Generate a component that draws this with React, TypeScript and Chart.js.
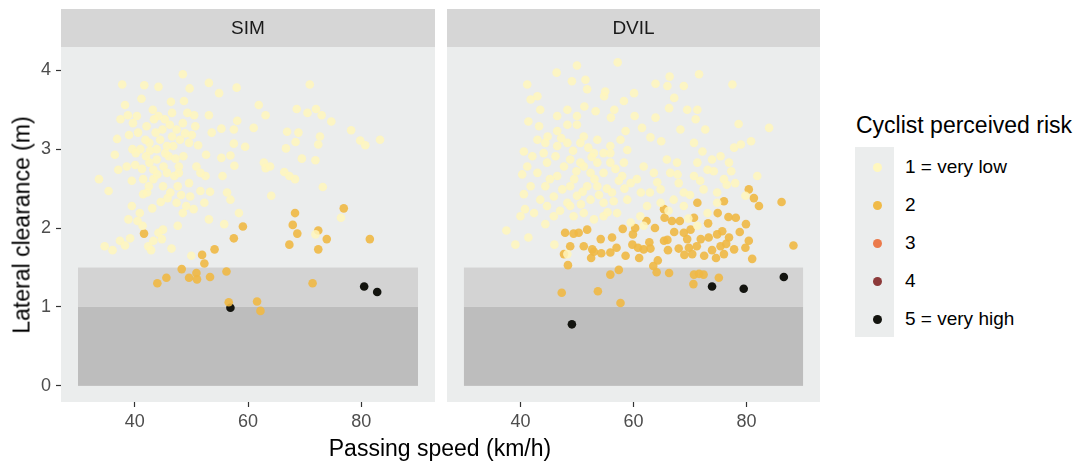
import React, { useEffect, useRef } from "react";
import { Chart, registerables } from "chart.js";

Chart.register(...registerables);

// ---------- data ----------
const X_TICKS = [40, 60, 80];
const Y_TICKS = [0, 1, 2, 3, 4];
const X_RANGE = [27, 93];
const Y_RANGE = [-0.2045, 4.295];

const PANEL_LABELS = ["SIM", "DVIL"];
const RISK_LABELS = ["1 = very low", "2", "3", "4", "5 = very high"];
const RISK_COLORS = ["#FFF7BF", "#F0BA48", "#EB7A4B", "#8C3A3A", "#13140F"];
const RISK_POINT_COLORS = [
  "rgba(255,246,188,0.85)",
  "rgba(240,184,68,0.9)",
  "rgba(235,122,75,0.9)",
  "rgba(140,58,58,0.95)",
  "rgba(19,20,15,1)",
];

// shaded clearance zones: [xFrom, xTo, yFrom, yTo]
const ZONE_DARK = [30, 90, 0, 1];
const ZONE_LIGHT = [30, 90, 1, 1.5];

const SIM_R1: [number, number][] = [
  [33.7, 2.62], [35.4, 2.47], [34.7, 1.77], [36.1, 1.72], [37.8, 3.82], [41.7, 3.81],
  [44.2, 3.79], [48.5, 3.95], [53.1, 3.84], [54.9, 3.71], [58.0, 3.78], [70.9, 3.82],
  [38.3, 3.56], [41.2, 3.64], [46.4, 3.6], [48.7, 3.61], [49.7, 3.77], [61.9, 3.56],
  [63.1, 3.43], [53.1, 3.43], [68.6, 3.51], [70.5, 3.46], [72.0, 3.51], [73.0, 3.43],
  [74.7, 3.35], [78.2, 3.24], [79.8, 3.11], [80.7, 3.05], [83.3, 3.12], [61.0, 3.27],
  [58.1, 3.36], [57.5, 3.25], [55.3, 3.26], [53.6, 3.21], [66.9, 3.22], [68.9, 3.21],
  [72.7, 3.16], [68.4, 3.09], [72.4, 3.06], [66.7, 3.01], [59.5, 3.03], [57.5, 3.07],
  [52.6, 2.93], [55.3, 2.89], [56.9, 2.92], [57.6, 2.79], [69.5, 2.88], [71.9, 2.86],
  [62.8, 2.83], [63.1, 2.76], [63.9, 2.78], [66.4, 2.71], [67.3, 2.66], [68.3, 2.62],
  [73.2, 2.52], [64.1, 2.41], [55.5, 2.66], [52.5, 2.66], [53.3, 2.46], [51.6, 2.47],
  [56.3, 2.45], [56.9, 2.36], [52.3, 2.32], [58.4, 2.19], [53.1, 2.11], [55.8, 2.05],
  [76.4, 2.13], [71.9, 1.92], [50.0, 1.65], [46.5, 1.74], [45.0, 1.98], [43.3, 1.84],
  [42.4, 1.77], [39.2, 1.87], [37.4, 1.84], [47.6, 2.03], [48.5, 2.19], [50.4, 2.24],
  [49.1, 2.28], [47.4, 2.32], [45.8, 2.38], [43.1, 2.25], [40.9, 2.19], [39.5, 2.28],
  [38.9, 2.11], [40.5, 2.09], [41.4, 2.03], [44.2, 1.94], [41.5, 2.43], [42.2, 2.45],
  [39.5, 2.6], [40.1, 2.8], [38.6, 2.78], [37.1, 2.74], [36.5, 2.93], [36.9, 3.13],
  [37.5, 3.38], [38.8, 3.43], [39.7, 3.33], [40.4, 3.42], [39.6, 3.0], [41.0, 3.0],
  [42.0, 2.91], [42.6, 3.08], [43.7, 3.21], [43.2, 3.5], [44.2, 3.42], [45.3, 3.38],
  [44.5, 3.12], [43.9, 2.87], [42.6, 2.83], [43.3, 2.74], [45.1, 2.78], [46.0, 2.91],
  [46.8, 3.04], [48.0, 3.12], [47.4, 3.25], [46.6, 3.46], [48.5, 3.33], [49.3, 3.46],
  [50.5, 3.43], [50.7, 3.29], [50.1, 3.18], [49.6, 3.08], [48.6, 2.91], [47.8, 2.78],
  [47.0, 2.66], [45.7, 2.7], [45.0, 2.53], [46.3, 2.45], [47.6, 2.53], [49.6, 2.57],
  [50.9, 2.78], [51.6, 2.7], [40.6, 3.21], [42.1, 3.29], [41.5, 2.62], [45.7, 3.04],
  [43.9, 3.0], [47.8, 2.7], [43.3, 2.62], [42.5, 2.53], [46.6, 3.16], [44.8, 1.86],
  [42.9, 1.72], [38.3, 1.78], [41.9, 3.12], [44.9, 3.25], [45.4, 2.95], [42.7, 2.98],
  [47.2, 2.88], [48.9, 3.2], [44.0, 2.68], [40.2, 2.95], [46.2, 3.31], [43.4, 3.38],
  [39.0, 3.18], [41.3, 2.75], [48.2, 2.42], [44.6, 2.33], [51.2, 3.05], [49.8, 2.4],
];
const SIM_R2: [number, number][] = [
  [41.65, 1.93], [44.0, 1.3], [45.6, 1.37], [48.3, 1.48], [49.6, 1.37], [50.9, 1.43],
  [51.0, 1.35], [51.9, 1.66], [52.3, 1.55], [53.3, 1.38], [54.1, 1.73], [56.2, 1.45],
  [56.6, 1.06], [57.5, 1.87], [59.1, 2.02], [61.6, 1.07], [62.2, 0.95], [67.3, 1.79],
  [67.9, 2.04], [68.3, 2.19], [68.7, 1.93], [71.4, 1.3], [72.4, 1.97], [72.4, 1.73],
  [73.9, 1.86], [76.9, 2.25], [81.5, 1.86],
];
const SIM_R3: [number, number][] = [];
const SIM_R4: [number, number][] = [];
const SIM_R5: [number, number][] = [[56.9, 0.99], [80.5, 1.26], [82.8, 1.19]];

const DVIL_R1: [number, number][] = [
  [37.5, 1.97], [39.1, 1.79], [41.4, 1.88], [46.0, 1.79], [48.3, 1.67], [40.0, 2.15],
  [40.8, 2.24], [42.4, 2.19], [44.4, 2.05], [45.9, 2.15], [40.6, 2.43], [41.8, 2.53],
  [40.3, 2.68], [41.2, 2.78], [43.0, 2.7], [44.4, 2.53], [44.7, 2.83], [46.5, 2.66],
  [47.4, 2.49], [48.3, 2.32], [48.8, 2.53], [50.0, 2.41], [51.2, 2.19], [52.4, 2.36],
  [53.6, 2.53], [54.7, 2.32], [56.2, 2.45], [57.1, 2.19], [58.9, 2.36], [59.5, 2.57],
  [58.0, 2.66], [54.7, 2.7], [52.4, 2.7], [50.6, 2.83], [48.8, 2.87], [47.7, 2.78],
  [46.2, 2.91], [44.1, 2.95], [42.1, 2.91], [40.6, 2.97], [43.0, 3.12], [44.4, 3.08],
  [46.5, 3.04], [48.3, 3.08], [50.6, 3.08], [53.0, 2.95], [54.7, 2.95], [55.9, 3.04],
  [55.9, 2.83], [53.6, 2.83], [51.2, 2.78], [51.8, 2.53], [58.3, 2.83], [61.8, 2.78],
  [63.6, 2.7], [60.6, 2.62], [62.4, 2.28], [62.9, 2.45], [64.8, 2.49], [64.8, 2.32],
  [66.5, 2.7], [65.9, 2.87], [67.7, 2.83], [68.0, 2.57], [68.9, 2.45], [67.1, 2.36],
  [70.7, 2.66], [71.3, 2.83], [72.4, 2.49], [73.1, 2.74], [73.9, 2.87], [75.4, 2.91],
  [76.9, 2.83], [76.0, 2.62], [74.8, 2.45], [76.5, 2.55], [78.0, 2.57], [79.8, 2.41],
  [81.9, 2.66], [77.8, 3.02], [79.0, 3.06], [80.8, 3.1], [78.6, 3.32], [84.0, 3.27],
  [70.7, 3.08], [72.2, 2.97], [68.3, 3.25], [71.0, 3.38], [69.5, 3.5], [71.3, 3.5],
  [66.3, 3.52], [63.9, 3.4], [61.5, 3.27], [67.2, 3.65], [66.0, 3.8], [68.9, 3.8],
  [66.4, 3.92], [71.6, 3.95], [77.5, 3.82], [63.9, 3.83], [60.1, 3.71], [58.3, 3.61],
  [58.6, 3.23], [57.7, 3.12], [58.9, 2.99], [56.6, 3.5], [56.0, 3.4], [54.8, 3.67],
  [55.0, 3.73], [53.3, 3.48], [51.5, 3.88], [50.0, 4.06], [57.2, 4.1], [46.4, 3.97],
  [49.1, 3.86], [51.8, 3.76], [51.3, 3.54], [50.0, 3.42], [48.3, 3.5], [46.5, 3.42],
  [43.5, 3.5], [43.0, 3.67], [41.2, 3.82], [41.8, 3.63], [41.4, 3.35], [43.3, 3.29],
  [44.8, 3.16], [46.5, 3.23], [48.3, 3.31], [50.0, 3.31], [51.2, 3.16], [53.6, 3.12],
  [55.9, 2.95], [54.7, 2.15], [53.0, 2.11], [49.4, 2.15], [48.8, 2.28], [59.5, 2.07],
  [61.8, 2.03], [71.3, 2.03], [68.9, 2.28], [73.1, 2.19], [74.8, 2.32], [61.2, 2.15],
  [44.7, 2.28], [43.5, 2.36], [45.2, 2.62], [49.5, 2.62], [52.6, 2.9], [47.2, 3.14],
  [57.4, 2.6], [64.2, 2.58], [70.0, 2.42], [69.7, 2.12], [60.2, 3.42], [63.0, 3.15],
  [49.9, 2.72], [51.0, 2.46], [53.1, 2.62], [55.3, 2.5], [56.8, 2.75], [45.9, 2.4],
  [47.0, 2.22], [50.7, 2.3], [52.0, 3.02], [49.3, 2.98], [55.4, 2.2], [56.5, 2.34],
  [53.9, 2.42], [58.4, 2.5], [66.2, 2.22], [71.8, 2.6], [74.2, 2.72], [77.3, 2.72],
  [61.3, 2.45], [67.8, 2.68], [72.7, 3.25], [64.9, 3.1],
];
const DVIL_R2: [number, number][] = [
  [47.3, 1.18], [53.7, 1.2], [57.7, 1.05], [48.4, 1.53], [47.9, 1.94], [48.8, 1.77],
  [47.7, 1.67], [50.3, 1.94], [51.2, 1.77], [51.8, 1.98], [52.7, 1.73], [52.5, 1.62],
  [54.3, 1.68], [55.9, 1.69], [56.2, 1.88], [55.9, 1.41], [57.4, 1.47], [58.1, 1.99],
  [58.6, 1.65], [59.9, 1.92], [59.8, 1.79], [61.0, 1.62], [60.8, 1.75], [62.3, 2.09],
  [63.0, 1.74], [63.8, 2.0], [64.3, 1.59], [64.1, 1.44], [65.4, 2.24], [65.5, 2.13],
  [66.1, 1.72], [66.3, 1.43], [65.4, 1.84], [66.8, 2.09], [68.2, 2.09], [68.9, 1.94],
  [68.0, 1.74], [69.8, 1.75], [70.1, 1.98], [69.5, 1.86], [71.3, 2.32], [70.7, 2.13],
  [70.4, 1.67], [70.7, 1.41], [70.6, 1.29], [72.4, 1.41], [72.5, 1.65], [71.9, 1.86],
  [73.3, 1.88], [74.9, 2.19], [76.0, 2.34], [76.8, 2.14], [78.1, 2.13], [74.8, 1.92],
  [75.7, 1.96], [76.9, 1.88], [75.4, 1.77], [76.0, 1.67], [74.6, 1.62], [75.1, 1.37],
  [77.8, 1.73], [79.8, 1.75], [80.4, 1.84], [79.9, 2.05], [81.0, 1.61], [80.4, 2.49],
  [81.3, 2.38], [82.2, 2.28], [86.2, 2.33], [88.3, 1.78], [61.8, 1.73], [54.2, 1.86],
  [53.0, 1.7], [49.4, 1.93], [57.0, 1.75], [62.8, 1.82], [67.2, 1.95], [69.0, 1.66],
  [71.2, 1.77], [73.9, 1.72], [76.4, 1.8], [78.8, 1.95], [71.6, 1.42], [66.0, 1.85],
  [63.5, 1.52], [60.3, 2.0], [73.2, 2.06],
];
const DVIL_R3: [number, number][] = [];
const DVIL_R4: [number, number][] = [];
const DVIL_R5: [number, number][] = [[49.1, 0.78], [73.9, 1.26], [79.5, 1.23], [86.6, 1.38]];

// ---------- styling ----------
const FONT = '"Liberation Sans", Arial, Helvetica, sans-serif';
const PANEL_BG = "#EBEDED";
const STRIP_BG = "#D6D6D6";
const ZONE_DARK_COLOR = "#BDBDBD";
const ZONE_LIGHT_COLOR = "#D3D3D3";
const STRIP_TOP = 9;

function makePanelPlugin(label: string) {
  return {
    id: "panelDecor",
    beforeDraw(chart: any) {
      const { ctx, chartArea } = chart;
      const { left, top, right, bottom } = chartArea;
      ctx.save();
      ctx.fillStyle = PANEL_BG;
      ctx.fillRect(left, top, right - left, bottom - top);
      ctx.fillStyle = STRIP_BG;
      ctx.fillRect(left, STRIP_TOP, right - left, top - STRIP_TOP);
      ctx.fillStyle = "#1A1A1A";
      ctx.font = `19px ${FONT}`;
      ctx.textAlign = "center";
      ctx.textBaseline = "middle";
      ctx.fillText(label, (left + right) / 2, (STRIP_TOP + top) / 2 + 1);
      ctx.restore();
    },
    beforeDatasetsDraw(chart: any) {
      const { ctx } = chart;
      const xs = chart.scales.x;
      const ys = chart.scales.y;
      ctx.save();
      const zones: [number[], string][] = [
        [ZONE_DARK, ZONE_DARK_COLOR],
        [ZONE_LIGHT, ZONE_LIGHT_COLOR],
      ];
      for (const [z, c] of zones) {
        const x0 = xs.getPixelForValue(z[0]);
        const x1 = xs.getPixelForValue(z[1]);
        const y0 = ys.getPixelForValue(z[2]);
        const y1 = ys.getPixelForValue(z[3]);
        ctx.fillStyle = c;
        ctx.fillRect(x0, y1, x1 - x0, y0 - y1);
      }
      ctx.restore();
    },
  };
}

function buildConfig(label: string, series: [number, number][][], showY: boolean, padLeft: number): any {
  return {
    type: "scatter",
    data: {
      datasets: series.map((pts, i) => ({
        label: RISK_LABELS[i],
        data: pts.map(([x, y]) => ({ x, y })),
        backgroundColor: RISK_POINT_COLORS[i],
        borderWidth: 0,
        pointRadius: 4.3,
        pointHoverRadius: 4.3,
      })),
    },
    options: {
      responsive: false,
      animation: false,
      events: [],
      layout: { padding: { top: 47, left: padLeft, right: 5, bottom: 0 } },
      plugins: { legend: { display: false }, tooltip: { enabled: false }, title: { display: false } },
      scales: {
        x: {
          type: "linear",
          min: X_RANGE[0],
          max: X_RANGE[1],
          afterBuildTicks: (s: any) => {
            s.ticks = X_TICKS.map((v) => ({ value: v }));
          },
          afterFit: (s: any) => {
            s.height = 38;
          },
          border: { display: false },
          grid: { drawOnChartArea: false, drawTicks: true, tickLength: 5, tickColor: "#333333", tickWidth: 1.2 },
          ticks: { color: "#4D4D4D", font: { family: FONT, size: 18 }, padding: 4, maxRotation: 0 },
        },
        y: {
          type: "linear",
          display: showY,
          min: Y_RANGE[0],
          max: Y_RANGE[1],
          afterBuildTicks: (s: any) => {
            s.ticks = Y_TICKS.map((v) => ({ value: v }));
          },
          afterFit: (s: any) => {
            s.width = showY ? 61 : 0;
          },
          border: { display: false },
          grid: { drawOnChartArea: false, drawTicks: true, tickLength: 5, tickColor: "#333333", tickWidth: 1.2 },
          ticks: { color: "#4D4D4D", font: { family: FONT, size: 18 }, padding: 5 },
        },
      },
    },
    plugins: [makePanelPlugin(label)],
  };
}

function Panel(props: { label: string; series: [number, number][][]; showY: boolean; left: number; width: number; padLeft: number }) {
  const ref = useRef<HTMLCanvasElement | null>(null);
  useEffect(() => {
    if (!ref.current) return;
    const chart = new Chart(ref.current, buildConfig(props.label, props.series, props.showY, props.padLeft));
    return () => chart.destroy();
  }, []);
  return (
    <canvas
      ref={ref}
      width={props.width}
      height={440}
      style={{ position: "absolute", left: props.left, top: 0, width: props.width, height: 440 }}
    />
  );
}

export default function App() {
  const simSeries = [SIM_R1, SIM_R2, SIM_R3, SIM_R4, SIM_R5];
  const dvilSeries = [DVIL_R1, DVIL_R2, DVIL_R3, DVIL_R4, DVIL_R5];
  const legendY = [167, 205, 243, 281, 319];
  return (
    <div
      style={{
        position: "fixed",
        left: 0,
        top: 0,
        width: 1088,
        height: 462,
        background: "#FFFFFF",
        fontFamily: FONT,
        overflow: "hidden",
      }}
    >
      <Panel label={PANEL_LABELS[0]} series={simSeries} showY={true} left={0} width={440} padLeft={0} />
      <Panel label={PANEL_LABELS[1]} series={dvilSeries} showY={false} left={440} width={385} padLeft={7} />
      <div
        style={{
          position: "absolute",
          left: 22,
          top: 225,
          transform: "translate(-50%, -50%) rotate(-90deg)",
          whiteSpace: "nowrap",
          fontSize: 23,
          color: "#000",
        }}
      >
        Lateral clearance (m)
      </div>
      <div
        style={{
          position: "absolute",
          left: 440,
          top: 448,
          transform: "translate(-50%, -50%)",
          whiteSpace: "nowrap",
          fontSize: 23,
          color: "#000",
        }}
      >
        Passing speed (km/h)
      </div>
      <div
        style={{
          position: "absolute",
          left: 856,
          top: 125,
          transform: "translate(0, -50%)",
          whiteSpace: "nowrap",
          fontSize: 23,
          color: "#000",
        }}
      >
        Cyclist perceived risk
      </div>
      <div style={{ position: "absolute", left: 855, top: 147, width: 39, height: 190, background: PANEL_BG }} />
      {RISK_LABELS.map((lab, i) => (
        <React.Fragment key={lab}>
          <div
            style={{
              position: "absolute",
              left: 877 - 4.5,
              top: legendY[i] - 4.5,
              width: 9,
              height: 9,
              borderRadius: "50%",
              background: RISK_COLORS[i],
            }}
          />
          <div
            style={{
              position: "absolute",
              left: 905,
              top: legendY[i],
              transform: "translate(0, -50%)",
              whiteSpace: "nowrap",
              fontSize: 19,
              color: "#000",
            }}
          >
            {lab}
          </div>
        </React.Fragment>
      ))}
    </div>
  );
}
